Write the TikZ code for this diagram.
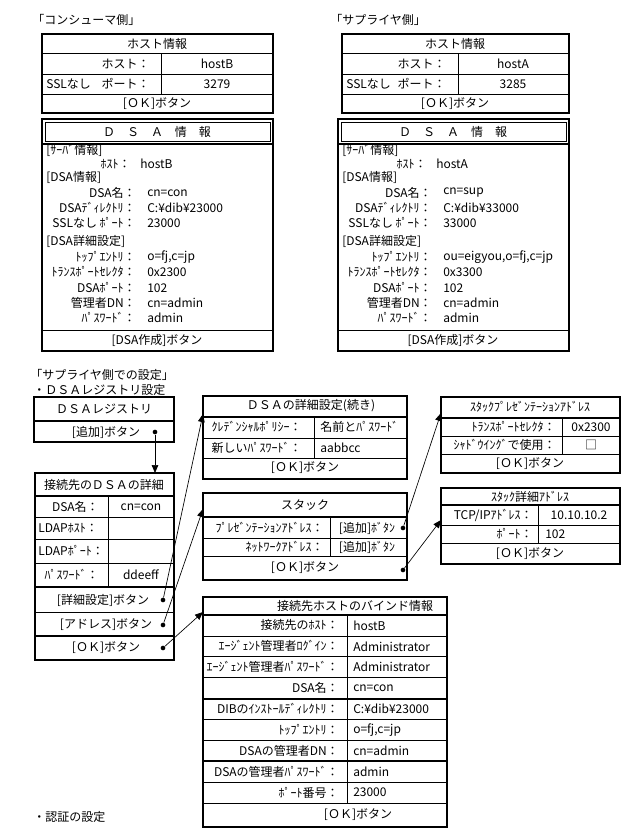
\documentclass[tikz,border=0pt]{standalone}
\usepackage{fontspec}
\setmainfont{Noto Sans CJK JP}
\usetikzlibrary{arrows.meta}

\tikzset{
  tablebox/.style={line width=1.5pt},
  thinrule/.style={line width=0.6pt},
  thickrule/.style={line width=1.5pt},
  txt/.style={inner sep=0pt, font=\fontsize{9}{10}\selectfont},
  lbl/.style={txt, anchor=east},
  val/.style={txt, anchor=west},
  hole/.style={circle, fill, inner sep=0pt, minimum size=3.5pt},
  link/.style={-{Triangle[length=6pt,width=5pt]}, line width=0.5pt}
}

% DSA info panel: prefix, x shift, host, name, directory, port, top entry, selector
\newcommand{\dsainfo}[8]{%
  \begin{scope}[shift={(#2,0)}]
    \draw[tablebox] (42,119) rectangle (273,351);
    \draw[thinrule] (45,122) rectangle (270,141);
    \draw[thickrule] (42,144) -- (273,144);
    \draw[thinrule] (42,330) -- (273,330);
    \node[txt] (#1-title) at (157,132) {Ｄ　Ｓ　Ａ　情　報};
    \node[val] (#1-srv) at (46,150) {[ｻｰﾊﾞ情報]};
    \node[lbl] (#1-hostl) at (131,164) {ﾎｽﾄ：};
    \node[val] (#1-hostv) at (140,164) {#3};
    \node[val] (#1-dsa) at (46,177) {[DSA情報]};
    \node[lbl] (#1-namel) at (136,193) {DSA名：};
    \node[val] (#1-namev) at (147,193) {#4};
    \node[lbl] (#1-dirl) at (136,208) {DSAﾃﾞｨﾚｸﾄﾘ：};
    \node[val] (#1-dirv) at (147,208) {#5};
    \node[lbl] (#1-portl) at (136,223) {SSLなし ﾎﾟｰﾄ：};
    \node[val] (#1-portv) at (147,223) {#6};
    \node[val] (#1-adv) at (46,241) {[DSA詳細設定]};
    \node[lbl] (#1-topl) at (136,257) {ﾄｯﾌﾟｴﾝﾄﾘ：};
    \node[val] (#1-topv) at (147,257) {#7};
    \node[lbl] (#1-sell) at (136,272) {ﾄﾗﾝｽﾎﾟｰﾄｾﾚｸﾀ：};
    \node[val] (#1-selv) at (147,272) {#8};
    \node[lbl] (#1-dpl) at (136,288) {DSAﾎﾟｰﾄ：};
    \node[val] (#1-dpv) at (147,288) {102};
    \node[lbl] (#1-dnl) at (136,303) {管理者DN：};
    \node[val] (#1-dnv) at (147,303) {cn=admin};
    \node[lbl] (#1-pwl) at (136,318) {ﾊﾟｽﾜｰﾄﾞ：};
    \node[val] (#1-pwv) at (147,318) {admin};
    \node[txt] (#1-btn) at (157,340) {[DSA作成]ボタン};
  \end{scope}}

\begin{document}
\begin{tikzpicture}[x=0.75pt,y=-0.75pt]
\useasboundingbox (0,0) rectangle (630,840);

% Consumer side
\node[val] (contitle) at (32,20) {「コンシューマ側」};
\draw[tablebox] (42,34) rectangle (273,113);
\draw[thinrule] (42,53) -- (273,53) (42,74) -- (273,74) (42,94) -- (273,94) (161,53) -- (161,94);
\node[txt] (conhead) at (157,44) {ホスト情報};
\node[lbl] (conhostl) at (150,64) {ホスト：};
\node[txt] (conhostv) at (217,64) {hostB};
\node[val] (conssl) at (46,84) {SSLなし};
\node[lbl] (conportl) at (150,84) {ポート：};
\node[txt] (conportv) at (217,84) {3279};
\node[txt] (conok) at (157,104) {[ＯＫ]ボタン};
\dsainfo{con}{0}{hostB}{cn=con}{C:¥dib¥23000}{23000}{o=fj,c=jp}{0x2300}

% Supplier side
\node[val] (suptitle) at (330,20) {「サプライヤ側」};
\draw[tablebox] (342,34) rectangle (569,113);
\draw[thinrule] (342,53) -- (569,53) (342,74) -- (569,74) (342,94) -- (569,94) (458,53) -- (458,94);
\node[txt] (suphead) at (455,44) {ホスト情報};
\node[lbl] (suphostl) at (446,64) {ホスト：};
\node[txt] (suphostv) at (513,64) {hostA};
\node[val] (supssl) at (346,84) {SSLなし};
\node[lbl] (supportl) at (446,84) {ポート：};
\node[txt] (supportv) at (513,84) {3285};
\node[txt] (supok) at (455,104) {[ＯＫ]ボタン};
\dsainfo{sup}{296}{hostA}{cn=sup}{C:¥dib¥33000}{33000}{ou=eigyou,o=fj,c=jp}{0x3300}

% Settings on the supplier side
\node[val] (settitle) at (30,375) {「サプライヤ側での設定」};
\node[val] (regtitle) at (33,390) {・ＤＳＡレジストリ設定};

% DSA registry
\draw[tablebox] (34,397) rectangle (174,442);
\draw[thickrule] (34,421) -- (174,421);
\node[txt] (reghead) at (104,409) {ＤＳＡレジストリ};
\node[txt] (regadd) at (106,432) {[追加]ボタン};
\node[hole] (regdot) at (155,432) {};

% Details of the target DSA
\draw[tablebox] (35,473) rectangle (174,660);
\draw[thickrule] (35,496) -- (174,496) (35,587) -- (174,587) (35,636) -- (174,636);
\draw[thinrule] (35,517) -- (174,517) (35,539) -- (174,539) (35,563) -- (174,563) (35,612) -- (174,612) (108,496) -- (108,587);
\coordinate (dettop) at (155,473);
\node[txt] (dethead) at (104,485) {接続先のＤＳＡの詳細};
\node[lbl] (detnamel) at (99,507) {DSA名：};
\node[txt] (detnamev) at (141,507) {cn=con};
\node[val] (dethostl) at (38,528) {LDAPﾎｽﾄ：};
\node[val] (detportl) at (38,551) {LDAPﾎﾟｰﾄ：};
\node[lbl] (detpwl) at (99,575) {ﾊﾟｽﾜｰﾄﾞ：};
\node[txt] (detpwv) at (141,575) {ddeeff};
\node[txt] (detadv) at (103,600) {[詳細設定]ボタン};
\node[txt] (detaddr) at (106,625) {[アドレス]ボタン};
\node[txt] (detok) at (106,648) {[ＯＫ]ボタン};
\node[hole] (advdot) at (163,600) {};
\node[hole] (addrdot) at (163,625) {};
\node[hole] (okdot) at (163,648) {};

% DSA advanced settings (continued)
\draw[tablebox] (203,396) rectangle (407,479);
\draw[thickrule] (203,417) -- (407,417);
\draw[thinrule] (203,438) -- (407,438) (203,458) -- (407,458) (314,417) -- (314,458);
\coordinate (advin) at (203,414);
\node[txt] (advhead) at (311,406) {ＤＳＡの詳細設定(続き)};
\node[lbl] (advcredl) at (302,427) {ｸﾚﾃﾞﾝｼｬﾙﾎﾟﾘｼｰ：};
\node[val] (advcredv) at (320,427) {名前とﾊﾟｽﾜｰﾄﾞ};
\node[lbl] (advpwl) at (302,448) {新しいﾊﾟｽﾜｰﾄﾞ：};
\node[val] (advpwv) at (320,448) {aabbcc};
\node[txt] (advok) at (305,468) {[ＯＫ]ボタン};

% Stack
\draw[tablebox] (203,493) rectangle (407,580);
\draw[thickrule] (203,517) -- (407,517);
\draw[thinrule] (203,538) -- (407,538) (203,556) -- (407,556) (330,517) -- (330,556);
\coordinate (stackin) at (203,509);
\node[txt] (stackhead) at (305,505) {スタック};
\node[lbl] (stackpresl) at (324,528) {ﾌﾟﾚｾﾞﾝﾃｰｼｮﾝｱﾄﾞﾚｽ：};
\node[txt] (stackpresv) at (367,528) {[追加]ﾎﾞﾀﾝ};
\node[lbl] (stacknetl) at (324,547) {ﾈｯﾄﾜｰｸｱﾄﾞﾚｽ：};
\node[txt] (stacknetv) at (367,547) {[追加]ﾎﾞﾀﾝ};
\node[txt] (stackok) at (305,568) {[ＯＫ]ボタン};
\node[hole] (presdot) at (403,528) {};
\node[hole] (stackdot) at (403,570) {};

% Stack presentation address
\draw[tablebox] (441,397) rectangle (620,473);
\draw[thickrule] (441,418) -- (620,418);
\draw[thinrule] (441,436) -- (620,436) (441,454) -- (620,454) (562,418) -- (562,454);
\coordinate (presin) at (441,413);
\node[txt] (preshead) at (530,407) {ｽﾀｯｸﾌﾟﾚｾﾞﾝﾃｰｼｮﾝｱﾄﾞﾚｽ};
\node[lbl] (pressell) at (556,427) {ﾄﾗﾝｽﾎﾟｰﾄｾﾚｸﾀ：};
\node[txt] (presselv) at (591,427) {0x2300};
\node[lbl] (presshdl) at (556,445) {ｼｬﾄﾞｳｲﾝｸﾞで使用：};
\node[txt] (presshdv) at (591,445) {□};
\node[txt] (presok) at (530,464) {[ＯＫ]ボタン};

% Stack detail address
\draw[tablebox] (441,488) rectangle (620,564);
\draw[thickrule] (441,505) -- (620,505);
\draw[thinrule] (441,525) -- (620,525) (441,543) -- (620,543) (538,505) -- (538,543);
\coordinate (detailin) at (441,520);
\node[txt] (detailhead) at (530,497) {ｽﾀｯｸ詳細ｱﾄﾞﾚｽ};
\node[lbl] (detailipl) at (533,515) {TCP/IPｱﾄﾞﾚｽ：};
\node[txt] (detailipv) at (579,515) {10.10.10.2};
\node[lbl] (detailportl) at (533,534) {ﾎﾟｰﾄ：};
\node[val] (detailportv) at (545,534) {102};
\node[txt] (detailok) at (530,554) {[ＯＫ]ボタン};

% Bind information of the target host
\draw[tablebox] (203,597) rectangle (447,827);
\draw[thickrule] (203,615) -- (447,615);
\foreach \i in {1,...,9}{
  \draw[thinrule] (203,{615+20.9*\i}) -- (447,{615+20.9*\i});
}
\draw[thickrule] (203,{615+20.9*4}) -- (447,{615+20.9*4}) (203,{615+20.9*7}) -- (447,{615+20.9*7});
\draw[thinrule] (347,615) -- (347,803);
\coordinate (bindin) at (203,612);
\node[txt] (bindhead) at (355,606) {接続先ホストのバインド情報};
\foreach \i/\l/\v in {1/接続先のﾎｽﾄ：/hostB, 2/ｴｰｼﾞｪﾝﾄ管理者ﾛｸﾞｲﾝ：/Administrator,
    3/ｴｰｼﾞｪﾝﾄ管理者ﾊﾟｽﾜｰﾄﾞ：/Administrator, 4/DSA名：/cn=con,
    5/DIBのｲﾝｽﾄｰﾙﾃﾞｨﾚｸﾄﾘ：/C:¥dib¥23000, 6/ﾄｯﾌﾟｴﾝﾄﾘ：/{o=fj,c=jp},
    7/DSAの管理者DN：/cn=admin, 8/DSAの管理者ﾊﾟｽﾜｰﾄﾞ：/admin, 9/ﾎﾟｰﾄ番号：/23000}{
  \node[lbl] (bindl\i) at (339,{615+20.9*(\i-0.5)}) {\l};
  \node[val] (bindv\i) at (353,{615+20.9*(\i-0.5)}) {\v};
}
\node[txt] (bindok) at (358,815) {[ＯＫ]ボタン};

% Authentication settings
\node[val] (authtitle) at (33,817) {・認証の設定};

% Connectors
\draw[link] (regdot) -- (dettop);
\draw[link] (advdot) -- (advin);
\draw[link] (addrdot) -- (stackin);
\draw[link] (okdot) -- (bindin);
\draw[link] (presdot) -- (presin);
\draw[link] (stackdot) -- (detailin);

\end{tikzpicture}
\end{document}
